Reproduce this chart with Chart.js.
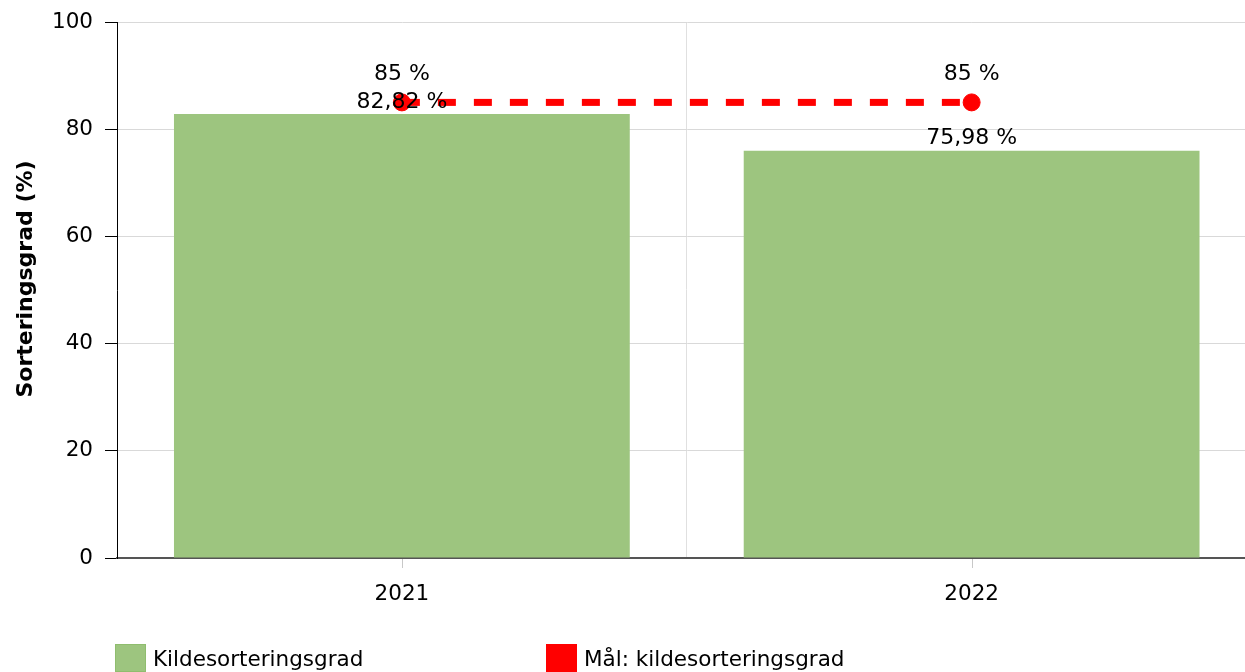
<!DOCTYPE html>
<html>
<head>
<meta charset="utf-8">
<script src="https://cdn.jsdelivr.net/npm/chart.js@4/dist/chart.umd.min.js"></script>
<style>
  html, body { margin: 0; padding: 0; overflow: hidden; background: #fff; width: 1245px; height: 672px; }
  #wrap { position: relative; width: 1266px; height: 672px; }
  #legend { position: absolute; top: 644px; left: 0; width: 1245px; height: 28px; font-family: "DejaVu Sans", Verdana, sans-serif; font-size: 21.5px; color: #000; }
  .item { position: absolute; top: 0; display: flex; align-items: center; white-space: nowrap; }
  .sw { width: 31px; height: 28px; margin-right: 7px; box-sizing: border-box; }
</style>
</head>
<body>
<div id="wrap">
  <canvas id="c" width="1266" height="672"></canvas>
  <div id="legend"></div>
</div>
<script>
const categories = ["2021", "2022"];
const sortingRate = [82.82, 75.98];
const targetRate = [85, 85];
const seriesNames = ["Kildesorteringsgrad", "Mål: kildesorteringsgrad"];
const yTicks = [0, 20, 40, 60, 80, 100];
const yTitle = 'Sorteringsgrad (%)';

const FONT = '"DejaVu Sans", Verdana, sans-serif';
const fmt = v => v.toString().replace('.', ',') + ' %';

const labelPlugin = {
  id: 'valueLabels',
  afterDatasetsDraw(chart) {
    const ctx = chart.ctx;
    ctx.save();
    ctx.font = '22px ' + FONT;
    ctx.fillStyle = '#000';
    ctx.textAlign = 'center';
    ctx.textBaseline = 'middle';
    const barMeta = chart.getDatasetMeta(1);
    barMeta.data.forEach((el, i) => {
      ctx.fillText(fmt(sortingRate[i]), el.x, el.y - 12);
    });
    const lineMeta = chart.getDatasetMeta(0);
    lineMeta.data.forEach((el, i) => {
      ctx.fillText(fmt(targetRate[i]), el.x, el.y - 28);
    });
    ctx.restore();
  }
};

const extrasPlugin = {
  id: 'extras',
  afterDraw(chart) {
    const x = chart.scales.x;
    const y = chart.scales.y;
    const ctx = chart.ctx;
    ctx.save();
    ctx.strokeStyle = '#c8c8c8';
    ctx.lineWidth = 1;
    categories.forEach((c, i) => {
      const px = Math.round(x.getPixelForValue(i)) + 0.5;
      ctx.beginPath();
      ctx.moveTo(px, x.top + 1);
      ctx.lineTo(px, x.top + 10);
      ctx.stroke();
    });
    // y axis title
    ctx.translate(26, (y.top + y.bottom) / 2 - 11);
    ctx.rotate(-Math.PI / 2);
    ctx.font = 'bold 22px ' + FONT;
    ctx.fillStyle = '#000';
    ctx.textAlign = 'center';
    ctx.textBaseline = 'middle';
    ctx.fillText(yTitle, 0, 0);
    ctx.restore();
  }
};

const chart = new Chart(document.getElementById('c'), {
  data: {
    labels: categories,
    datasets: [
      {
        type: 'line',
        label: seriesNames[1],
        data: targetRate,
        borderColor: '#ff0000',
        backgroundColor: '#ff0000',
        borderWidth: 7,
        borderDash: [18, 18],
        pointRadius: 8.5,
        pointBorderWidth: 1,
        pointBackgroundColor: '#ff0000',
        pointBorderColor: '#ff0000',
        order: 0
      },
      {
        type: 'bar',
        label: seriesNames[0],
        data: sortingRate,
        backgroundColor: '#9dc57f',
        borderWidth: 0,
        barPercentage: 0.8,
        categoryPercentage: 1.0,
        order: 1
      }
    ]
  },
  options: {
    responsive: false,
    animation: false,
    layout: { padding: { top: 22, right: 3, bottom: 0, left: 0 } },
    plugins: {
      legend: { display: false },
      tooltip: { enabled: false }
    },
    scales: {
      x: {
        type: 'category',
        offset: true,
        grid: { offset: true, color: '#e0e0e0', drawTicks: false, lineWidth: 1 },
        border: { display: true, color: '#555', width: 2 },
        ticks: { font: { family: FONT, size: 21.5 }, color: '#000', padding: 24 },
        afterFit(scale) { scale.height = 114; }
      },
      y: {
        min: 0,
        max: 100,
        afterBuildTicks(scale) { scale.ticks = yTicks.map(v => ({ value: v })); },
        grid: { color: '#d9d9d9', tickColor: '#000', tickLength: 12, lineWidth: 1 },
        border: { display: true, color: '#000', width: 1 },
        ticks: { font: { family: FONT, size: 21.5, lineHeight: 0.9 }, color: '#000', padding: 12 },
        title: { display: false, text: yTitle },
        afterFit(scale) { scale.width = 117; }
      }
    }
  },
  plugins: [labelPlugin, extrasPlugin]
});

// HTML legend
const legend = document.getElementById('legend');
const items = [
  { text: seriesNames[0], color: '#9dc57f', border: '#8fbd6e', left: 115 },
  { text: seriesNames[1], color: '#ff0000', border: '#ff0000', left: 546 }
];
items.forEach(it => {
  const d = document.createElement('div');
  d.className = 'item';
  d.style.left = it.left + 'px';
  const s = document.createElement('span');
  s.className = 'sw';
  s.style.background = it.color;
  s.style.border = '1px solid ' + it.border;
  const t = document.createElement('span');
  t.textContent = it.text;
  d.appendChild(s);
  d.appendChild(t);
  legend.appendChild(d);
});
</script>
</body>
</html>
